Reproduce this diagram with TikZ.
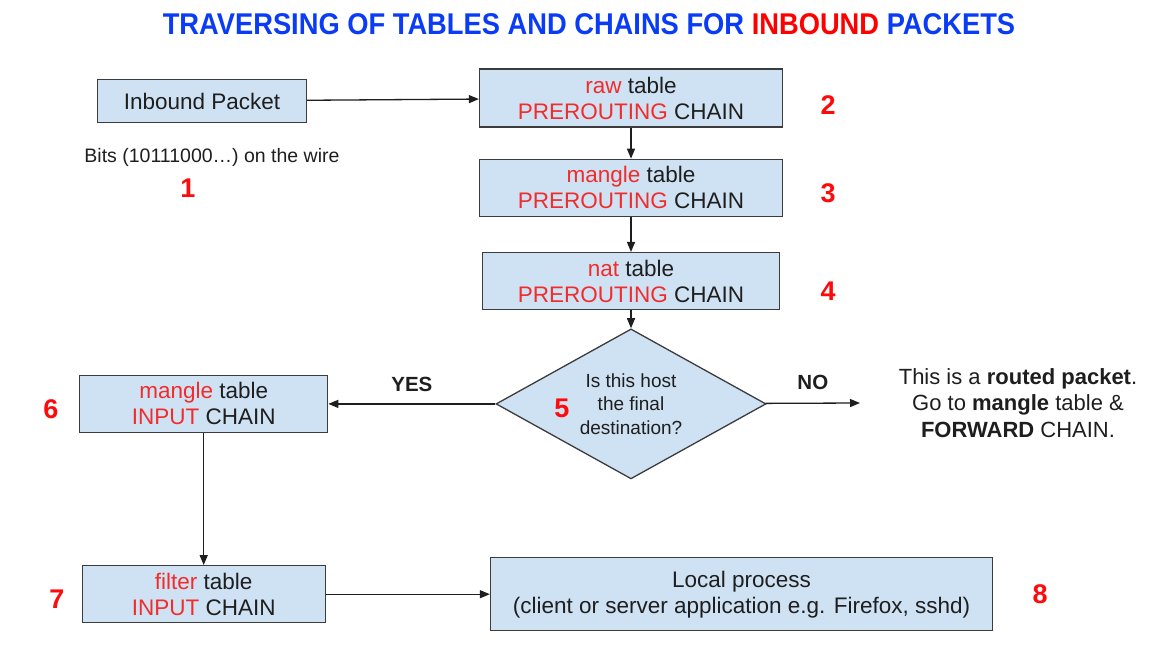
\documentclass[tikz,border=0pt]{standalone}
\usepackage{fontspec}
\setmainfont{Liberation Sans}
\usepackage{graphicx}
\usetikzlibrary{arrows.meta,positioning,shapes.geometric}

\definecolor{boxfill}{HTML}{CFE2F3}
\definecolor{boxline}{HTML}{3C3C3C}
\definecolor{hlred}{HTML}{F22B2B}
\definecolor{numred}{HTML}{FF0A0A}
\definecolor{ttlblue}{HTML}{0A3CF5}
\definecolor{ink}{HTML}{1E1E1E}
\newcommand{\rd}[1]{\textcolor{hlred}{#1}}

\begin{document}
\begin{tikzpicture}[
    x=1pt, y=-1pt,
    >={Triangle[length=10pt,width=8pt]},
    tbl/.style={draw=boxline, fill=boxfill, line width=1.3pt, align=center, inner sep=0pt,
                minimum height=57pt, text=ink, font=\fontsize{22.5}{26}\selectfont},
    arr/.style={->, line width=1.3pt, draw=ink},
    num/.style={font=\fontsize{27}{27}\selectfont\bfseries, text=numred},
    note/.style={text=ink, align=center},
    yn/.style={font=\fontsize{20.5}{20.5}\selectfont\bfseries, text=ink}
]
    \useasboundingbox[fill=white] (0,0) rectangle (1159,645);

    \node (title) at (589,24) {\scalebox{0.91}[1]{\fontsize{30}{30}\selectfont\bfseries\color{ttlblue}TRAVERSING OF TABLES AND CHAINS FOR \textcolor{red}{INBOUND} PACKETS}};

    % prerouting column
    \node[tbl, minimum width=209pt, minimum height=43pt] (inb) at (202,101) {Inbound Packet};
    \node[tbl, minimum width=303pt, minimum height=58pt] (raw) at (631,98) {\rd{raw} table\\\rd{PREROUTING} CHAIN};
    \node[tbl, minimum width=303pt, below=31pt of raw] (manpre) {\rd{mangle} table\\\rd{PREROUTING} CHAIN};
    \node[tbl, minimum width=297pt, below=35pt of manpre] (nat) {\rd{nat} table\\\rd{PREROUTING} CHAIN};
    \node[diamond, draw=boxline, fill=boxfill, line width=1.3pt, inner sep=0pt,
          minimum width=270pt, minimum height=150pt, below=18pt of nat] (dest) {};
    \node[note, font=\fontsize{19}{23.5}\selectfont] (q) at (dest.center) {Is this host\\the final\\destination?};

    % input side
    \node[tbl, minimum width=248pt, left=167pt of dest] (manin) {\rd{mangle} table\\\rd{INPUT} CHAIN};
    \node[tbl, minimum width=243pt, below=132pt of manin] (filt) {\rd{filter} table\\\rd{INPUT} CHAIN};
    \node[tbl, minimum width=502pt, minimum height=73pt, right=164pt of filt] (local) {Local process\\(client or server application e.g. Firefox, sshd)};
    \coordinate (fwd) at (860,403);

    % texts
    \node[note, font=\fontsize{19.5}{20}\selectfont] (bits) at (212,157) {Bits (10111000\dots) on the wire};
    \node[note, font=\fontsize{22}{26.5}\selectfont] (routed) at (1018,403) {This is a \textbf{routed packet}.\\Go to \textbf{mangle} table \&\\\textbf{FORWARD} CHAIN.};

    % step numbers
    \node[num] (n1) at (188,188) {1};
    \node[num] (n2) at (828,105) {2};
    \node[num] (n3) at (828,193) {3};
    \node[num] (n4) at (828,291) {4};
    \node[num] (n5) at (562,408) {5};
    \node[num] (n6) at (51,409) {6};
    \node[num] (n7) at (57,599) {7};
    \node[num] (n8) at (1040,594) {8};

    \draw[arr] (inb) -- (raw);
    \draw[arr] (raw) -- (manpre);
    \draw[arr] (manpre) -- (nat);
    \draw[arr] (nat) -- (dest);
    \draw[arr] (dest) -- node[yn, above=8pt]{YES} (manin);
    \draw[arr] (dest) -- node[yn, above=10pt]{NO} (fwd);
    \draw[arr] (manin) -- (filt);
    \draw[arr] (filt) -- (local);
\end{tikzpicture}
\end{document}
